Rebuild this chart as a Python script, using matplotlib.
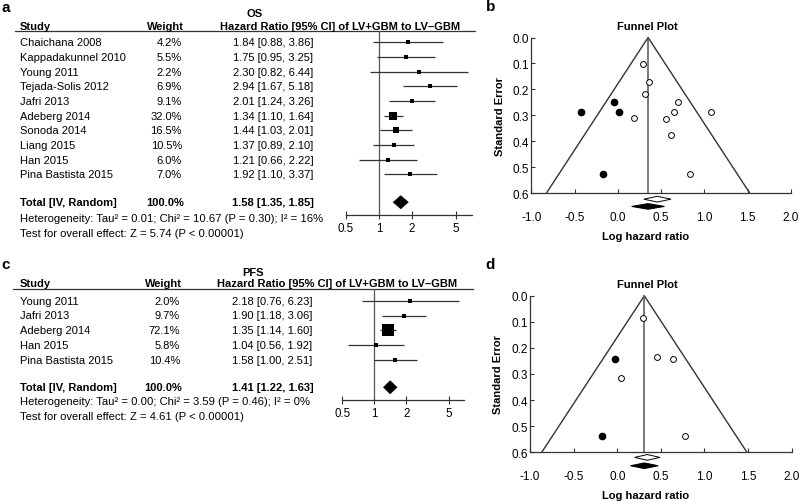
import matplotlib
matplotlib.use('Agg')
import matplotlib.pyplot as plt
from matplotlib.patches import Polygon
from matplotlib.ticker import NullLocator, FixedLocator, FixedFormatter
import numpy as np

plt.rcParams['font.family'] = ['Liberation Sans', 'DejaVu Sans']

# ---------------- data: forest plots ----------------
os_studies = ['Chaichana 2008', 'Kappadakunnel 2010', 'Young 2011', 'Tejada-Solis 2012',
              'Jafri 2013', 'Adeberg 2014', 'Sonoda 2014', 'Liang 2015', 'Han 2015',
              'Pina Bastista 2015']
os_weight = [4.2, 5.5, 2.2, 6.9, 9.1, 32.0, 16.5, 10.5, 6.0, 7.0]
os_hr = [1.84, 1.75, 2.30, 2.94, 2.01, 1.34, 1.44, 1.37, 1.21, 1.92]
os_lo = [0.88, 0.95, 0.82, 1.67, 1.24, 1.10, 1.03, 0.89, 0.66, 1.10]
os_hi = [3.86, 3.25, 6.44, 5.18, 3.26, 1.64, 2.01, 2.10, 2.22, 3.37]
os_total = [1.58, 1.35, 1.85]
os_het = 'Heterogeneity: Tau² = 0.01; Chi² = 10.67 (P = 0.30); I² = 16%'
os_test = 'Test for overall effect: Z = 5.74 (P < 0.00001)'

pfs_studies = ['Young 2011', 'Jafri 2013', 'Adeberg 2014', 'Han 2015', 'Pina Bastista 2015']
pfs_weight = [2.0, 9.7, 72.1, 5.8, 10.4]
pfs_hr = [2.18, 1.90, 1.35, 1.04, 1.58]
pfs_lo = [0.76, 1.18, 1.14, 0.56, 1.00]
pfs_hi = [6.23, 3.06, 1.60, 1.92, 2.51]
pfs_total = [1.41, 1.22, 1.63]
pfs_het = 'Heterogeneity: Tau² = 0.00; Chi² = 3.59 (P = 0.46); I² = 0%'
pfs_test = 'Test for overall effect: Z = 4.61 (P < 0.00001)'

total_label = 'Total [IV, Random]'
total_weight_label = '100.0%'
hr_header = 'Hazard Ratio [95% CI] of LV+GBM to LV\u2013GBM'
forest_ticks = [0.5, 1, 2, 5]
forest_ticklabels = ['0.5', '1', '2', '5']

# ---------------- data: funnel plots ----------------
os_fun_x = [0.61, 0.56, 0.83, 1.08, 0.70, 0.29, 0.36, 0.31, 0.19, 0.65]
os_fun_se = [0.377, 0.314, 0.526, 0.289, 0.247, 0.102, 0.171, 0.219, 0.309, 0.286]
os_fill_x = [-0.42, -0.04, 0.01, -0.175]
os_fill_se = [0.289, 0.247, 0.286, 0.526]
os_center = 0.35
os_obs = [0.457, 0.300, 0.615]
os_adj = [0.35, 0.16, 0.54]

pfs_fun_x = [0.78, 0.64, 0.30, 0.04, 0.46]
pfs_fun_se = [0.537, 0.243, 0.087, 0.314, 0.235]
pfs_fill_x = [-0.03, -0.17]
pfs_fill_se = [0.243, 0.537]
pfs_center = 0.31
pfs_obs = [0.344, 0.199, 0.489]
pfs_adj = [0.31, 0.15, 0.47]

fun_xticks = [-1.0, -0.5, 0.0, 0.5, 1.0, 1.5, 2.0]
fun_xticklabels = ['-1.0', '-0.5', '0.0', '0.5', '1.0', '1.5', '2.0']
fun_yticks = [0.0, 0.1, 0.2, 0.3, 0.4, 0.5, 0.6]
fun_yticklabels = ['0.0', '0.1', '0.2', '0.3', '0.4', '0.5', '0.6']

# ---------------- figure ----------------
W, H = 800, 502
fig = plt.figure(figsize=(W / 100, H / 100), dpi=100)


def rect(x0, y0, x1, y1):
    return [x0 / W, 1 - y1 / H, (x1 - x0) / W, (y1 - y0) / H]


ov = fig.add_axes([0, 0, 1, 1])
ov.set_xlim(0, W)
ov.set_ylim(H, 0)
ov.axis('off')

FS = 8
LINE = '#333333'


def forest(cfg, outcome, studies, weights, hr, lo, hi, total, het, test):
    y0, dy = cfg['y0'], cfg['dy']

    def ypx(r):
        return y0 + dy * r

    def row(px):
        return (px - y0) / dy

    ov.text(cfg['lab'][0], cfg['lab'][1], cfg['label'], fontsize=11, fontweight='bold',
            ha='left', va='center')
    ov.text(cfg['out_x'], cfg['out_y'], outcome, fontsize=FS, fontweight='bold',
            ha='center', va='center')
    hy = cfg['hdr_y']
    ov.text(20, hy, 'Study', fontsize=FS, fontweight='bold', ha='left', va='center')
    ov.text(cfg['w_hdr_x'], hy, 'Weight', fontsize=FS, fontweight='bold', ha='center', va='center')
    ov.text(cfg['hr_hdr_x'], hy, hr_header, fontsize=FS, fontweight='bold', ha='left', va='center')
    ov.plot([cfg['ul_x0'], cfg['ul_x1']], [cfg['ul_y'], cfg['ul_y']], color=LINE, lw=0.9)

    for i, (s, w, h, l, u) in enumerate(zip(studies, weights, hr, lo, hi)):
        y = ypx(i)
        ov.text(20, y, s, fontsize=FS, ha='left', va='center')
        ov.text(cfg['w_x'], y, f'{w:.1f}%', fontsize=FS, ha='right', va='center')
        ov.text(cfg['hr_x'], y, f'{h:.2f} [{l:.2f}, {u:.2f}]', fontsize=FS, ha='center', va='center')

    tr = cfg['tot_row']
    ov.text(20, ypx(tr), total_label, fontsize=FS, fontweight='bold', ha='left', va='center')
    ov.text(cfg['w_x'] + 2, ypx(tr), total_weight_label, fontsize=FS, fontweight='bold',
            ha='right', va='center')
    ov.text(cfg['hr_x'], ypx(tr), f'{total[0]:.2f} [{total[1]:.2f}, {total[2]:.2f}]',
            fontsize=FS, fontweight='bold', ha='center', va='center')
    ov.text(20, ypx(cfg['het_row']), het, fontsize=8.1, ha='left', va='center')
    ov.text(20, ypx(cfg['test_row']), test, fontsize=8.1, ha='left', va='center')

    # graphical part
    fx0, fx1 = cfg['fx']
    top, bot = cfg['ul_y'], cfg['axis_y']
    fax = fig.add_axes(rect(fx0, top, fx1, bot))
    fax.set_xscale('log')
    fax.set_xlim(0.5, 7)
    fax.set_ylim(row(bot), row(top))
    fax.patch.set_alpha(0)
    fax.axvline(1, color='#555555', lw=0.9)
    for i, (w, h, l, u) in enumerate(zip(weights, hr, lo, hi)):
        fax.plot([l, u], [i, i], color=LINE, lw=0.9, solid_capstyle='butt')
        side = max(3.2, 1.3 * np.sqrt(w))
        fax.plot([h], [i], marker='s', color='black', markersize=side * 0.72, markeredgewidth=0)
    hh = cfg['dia_h'] / dy
    fax.add_patch(Polygon([[total[1], tr], [total[0], tr - hh], [total[2], tr], [total[0], tr + hh]],
                          closed=True, facecolor='black', edgecolor='black', lw=0.5))
    for sp in ['top', 'right', 'left']:
        fax.spines[sp].set_visible(False)
    fax.spines['bottom'].set_color(LINE)
    fax.spines['bottom'].set_linewidth(0.9)
    fax.set_yticks([])
    fax.xaxis.set_major_locator(FixedLocator(forest_ticks))
    fax.xaxis.set_major_formatter(FixedFormatter(forest_ticklabels))
    fax.xaxis.set_minor_locator(NullLocator())
    fax.tick_params(axis='x', direction='inout', length=6, width=0.8, color=LINE,
                    labelsize=FS + 0.3, pad=2)


forest(dict(label='a', lab=(1, 8), out_x=255, out_y=14, hdr_y=26.5, w_hdr_x=165,
            hr_hdr_x=220, ul_x0=15, ul_x1=475, ul_y=32.3, y0=43.3, dy=14.67,
            w_x=182, hr_x=273, tot_row=10.9, het_row=11.95, test_row=13.0,
            fx=(346, 471.6), axis_y=216, dia_h=6.5),
       'OS', os_studies, os_weight, os_hr, os_lo, os_hi, os_total, os_het, os_test)

forest(dict(label='c', lab=(1, 265), out_x=253, out_y=273, hdr_y=284.3, w_hdr_x=163.5,
            hr_hdr_x=217, ul_x0=13, ul_x1=473, ul_y=290, y0=301.7, dy=14.8,
            w_x=180, hr_x=272.5, tot_row=5.85, het_row=6.8, test_row=7.77,
            fx=(342.3, 464.2), axis_y=401, dia_h=6.5),
       'PFS', pfs_studies, pfs_weight, pfs_hr, pfs_lo, pfs_hi, pfs_total, pfs_het, pfs_test)


def funnel(cfg, xs, ses, fxs, fses, center, obs, adj):
    x0, x1, y0, y1 = cfg['box']
    ax = fig.add_axes(rect(x0, y0, x1, y1))
    ax.patch.set_alpha(0)
    ax.set_xlim(-1, 2)
    ax.set_ylim(0.6, 0)
    z = 1.96
    semax = 0.6
    ax.plot([center - z * semax, center, center + z * semax], [semax, 0, semax],
            color=LINE, lw=1.0, clip_on=False)
    ax.plot([center, center], [0, semax], color='#555555', lw=1.1, clip_on=False)
    ax.plot(xs, ses, 'o', markersize=4.2, markerfacecolor='white', markeredgecolor='black',
            markeredgewidth=0.7, clip_on=False)
    ax.plot(fxs, fses, 'o', markersize=4.5, color='black', clip_on=False)
    hh = 0.011
    yo, yf = cfg['dia_y']
    ax.add_patch(Polygon([[obs[1], yo], [obs[0], yo - hh], [obs[2], yo], [obs[0], yo + hh]],
                         closed=True, facecolor='white', edgecolor='black', lw=0.7, clip_on=False))
    ax.add_patch(Polygon([[adj[1], yf], [adj[0], yf - hh], [adj[2], yf], [adj[0], yf + hh]],
                         closed=True, facecolor='black', edgecolor='black', lw=0.7, clip_on=False))
    for sp in ['top', 'right']:
        ax.spines[sp].set_visible(False)
    for sp in ['left', 'bottom']:
        ax.spines[sp].set_color(LINE)
        ax.spines[sp].set_linewidth(0.9)
    ax.set_xticks(fun_xticks)
    ax.set_xticklabels(fun_xticklabels)
    ax.set_yticks(fun_yticks)
    ax.set_yticklabels(fun_yticklabels)
    ax.tick_params(axis='x', direction='in', length=3, width=0.8, color=LINE,
                   labelsize=FS + 0.5, pad=12.5)
    ax.tick_params(axis='y', direction='in', length=3, width=0.8, color=LINE,
                   labelsize=FS + 0.5, pad=1.5)
    ov.text(cfg['lab'][0], cfg['lab'][1], cfg['label'], fontsize=11, fontweight='bold',
            ha='left', va='center')
    ov.text(647, cfg['title_y'], 'Funnel Plot', fontsize=FS, fontweight='bold',
            ha='center', va='center')
    ov.text(646, cfg['xlab_y'], 'Log hazard ratio', fontsize=FS, fontweight='bold',
            ha='center', va='center')
    ov.text(cfg['ylab_x'], (y0 + y1) / 2, 'Standard Error', fontsize=FS, fontweight='bold',
            ha='center', va='center', rotation=90)


funnel(dict(box=(531.3, 790.8, 38.5, 194.2), dia_y=(0.623, 0.651), label='b', lab=(486, 7),
            title_y=26.7, xlab_y=236.7, ylab_x=500),
       os_fun_x, os_fun_se, os_fill_x, os_fill_se, os_center, os_obs, os_adj)

funnel(dict(box=(530.1, 791.7, 296.8, 453.2), dia_y=(0.620, 0.652), label='d', lab=(485, 265),
            title_y=285, xlab_y=496, ylab_x=498),
       pfs_fun_x, pfs_fun_se, pfs_fill_x, pfs_fill_se, pfs_center, pfs_obs, pfs_adj)

fig.savefig('out.png', dpi=100)
